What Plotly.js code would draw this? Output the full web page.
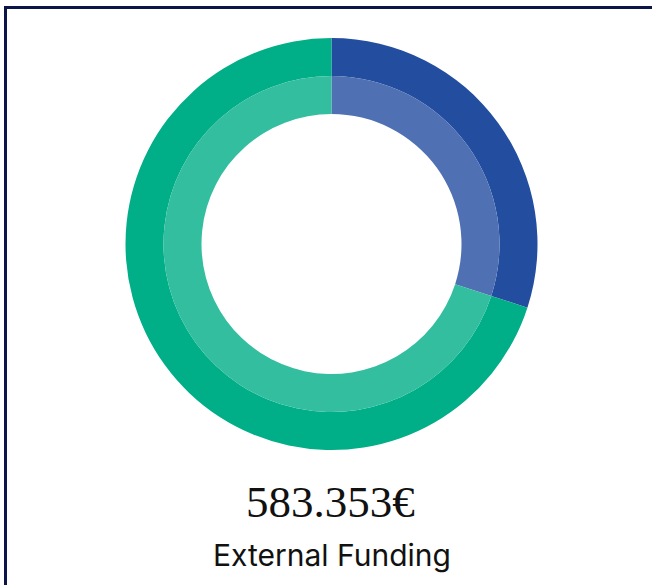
<!DOCTYPE html>
<html>
<head>
<meta charset="utf-8">
<script src="https://cdn.plot.ly/plotly-3.0.1.min.js"></script>
<style>
html,body{margin:0;padding:0;background:#fff;overflow:hidden;}
#chart{width:652px;height:585px;}
</style>
</head>
<body>
<div id="chart"></div>
<script>
const labels = ["Blue share", "Green share"];
const values = [30, 70];
const totalText = "583.353€";
const caption = "External Funding";

const outerColors = ["#234ea0", "#00ae87"];
const innerColors = ["#4f71b3", "#33be9f"];

const W = 652, H = 585;
const cx = 331.5, cy = 244;
function dom(r){
  return {
    x: [(cx - r) / W, (cx + r) / W],
    y: [(H - (cy + r)) / H, (H - (cy - r)) / H]
  };
}

const outer = {
  type: "pie", labels: labels, values: values, sort: false, direction: "clockwise",
  rotation: 0, hole: 168/206, domain: dom(206), textinfo: "none", hoverinfo: "none",
  marker: {colors: outerColors, line: {width: 0}}, showlegend: false
};
const inner = {
  type: "pie", labels: labels, values: values, sort: false, direction: "clockwise",
  rotation: 0, hole: 130/168, domain: dom(168), textinfo: "none", hoverinfo: "none",
  marker: {colors: innerColors, line: {width: 0}}, showlegend: false
};

const layout = {
  width: W, height: H,
  margin: {l: 0, r: 0, t: 0, b: 0},
  paper_bgcolor: "#ffffff",
  showlegend: false,
  shapes: [
    {type: "line", xref: "paper", yref: "paper", x0: 4/W, x1: 1, y0: 1 - 7.5/H, y1: 1 - 7.5/H,
     line: {color: "#0b1547", width: 3}},
    {type: "line", xref: "paper", yref: "paper", x0: 5.5/W, x1: 5.5/W, y0: 0, y1: 1 - 6/H,
     line: {color: "#0b1547", width: 3}}
  ],
  annotations: [
    {text: totalText, xref: "paper", yref: "paper", x: 331/W, y: 1 - 502/H,
     xanchor: "center", yanchor: "middle", showarrow: false,
     font: {family: "Liberation Serif, serif", size: 45, color: "#111111"}},
    {text: caption, xref: "paper", yref: "paper", x: 332/W, y: 1 - 555/H,
     xanchor: "center", yanchor: "middle", showarrow: false,
     font: {family: "Inter, sans-serif", size: 30, color: "#111111"}}
  ]
};

Plotly.newPlot("chart", [outer, inner], layout, {displayModeBar: false, staticPlot: true});
</script>
</body>
</html>
